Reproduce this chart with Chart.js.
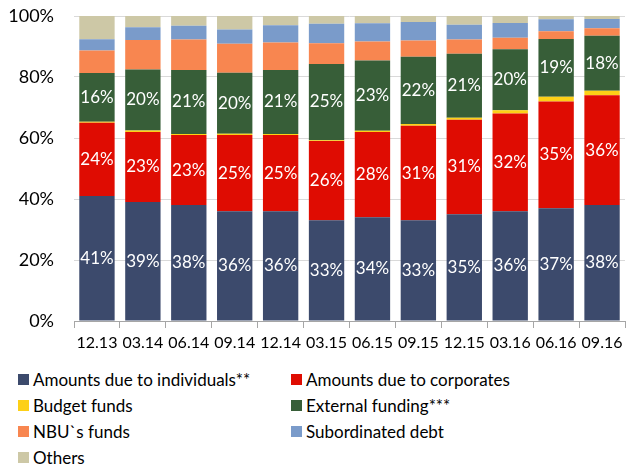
<!DOCTYPE html>
<html>
<head>
<meta charset="utf-8">
<script src="https://cdn.jsdelivr.net/npm/chart.js@4"></script>
<style>
  body { margin: 0; background: #fff; font-family: Lato, 'Open Sans', sans-serif; }
  .wrap { position: relative; width: 628px; height: 468px; }
  .chart { position: absolute; left: 0; top: 0; width: 628px; height: 358px; }
  .legend { position: absolute; left: 18px; top: 368px; display: grid;
    grid-template-columns: 273px 300px; row-gap: 4px; font-size: 17px; color: #000; }
  .legend span { display: flex; align-items: center; height: 22px; }
  .legend i { display: inline-block; width: 11px; height: 11px; margin-right: 4px; }
</style>
</head>
<body>
<div class="wrap">
  <div class="chart"><canvas id="myChart"></canvas></div>
  <div class="legend js-legend"></div>
</div>
<script>
const labels = ['12.13', '03.14', '06.14', '09.14', '12.14', '03.15', '06.15', '09.15', '12.15', '03.16', '06.16', '09.16'];

// shares of liabilities, %
const individuals = [41, 39, 38, 36, 36, 33, 34, 33, 35, 36, 37, 38];
const corporates = [24, 23, 23, 25, 25, 26, 28, 31, 31, 32, 35, 36];
const budget = [0.3, 0.5, 0.3, 0.4, 0.3, 0.3, 0.4, 0.6, 0.6, 1.1, 1.5, 1.5];
const external = [16, 20, 21, 20, 21, 25, 23, 22, 21, 20, 19, 18];
const nbu = [7.4, 9.6, 10.0, 9.5, 9.0, 6.8, 6.2, 5.4, 4.7, 3.8, 2.5, 2.5];
const subordinated = [3.7, 4.2, 4.5, 4.7, 5.7, 6.4, 6.0, 6.0, 4.8, 4.8, 3.9, 3.0];
const others = [7.6, 3.7, 3.2, 4.4, 3.0, 2.5, 2.4, 2.0, 2.9, 2.3, 1.1, 1.0];

const series = [
  { label: 'Amounts due to individuals**', data: individuals, color: '#3c4a6c', showValue: true },
  { label: 'Amounts due to corporates', data: corporates, color: '#df0c02', showValue: true },
  { label: 'Budget funds', data: budget, color: '#fdd017', showValue: false },
  { label: 'External funding***', data: external, color: '#375e38', showValue: true },
  { label: 'NBU`s funds', data: nbu, color: '#f88650', showValue: false },
  { label: 'Subordinated debt', data: subordinated, color: '#7a9bca', showValue: false },
  { label: 'Others', data: others, color: '#cdc8a6', showValue: false },
];

const valueLabels = {
  id: 'valueLabels',
  afterDatasetsDraw(chart) {
    const ctx = chart.ctx;
    ctx.save();
    ctx.fillStyle = '#fff';
    ctx.font = '17px Lato, "Open Sans", sans-serif';
    ctx.textAlign = 'center';
    ctx.textBaseline = 'middle';
    chart.data.datasets.forEach((ds, i) => {
      if (!series[i].showValue) return;
      chart.getDatasetMeta(i).data.forEach((bar, j) => {
        const mid = (bar.y + bar.base) / 2;
        ctx.fillText(Math.round(ds.data[j]) + '%', bar.x, mid);
      });
    });
    ctx.restore();
  },
};

const init = function () {
  const ctx = document.getElementById('myChart').getContext('2d');
  new Chart(ctx, {
    type: 'bar',
    data: {
      labels: labels,
      datasets: series.map((s) => ({
        label: s.label,
        data: s.data,
        backgroundColor: s.color,
        borderWidth: 0,
        barPercentage: 0.77,
        categoryPercentage: 1,
      })),
    },
    options: {
      responsive: true,
      maintainAspectRatio: false,
      animation: false,
      layout: { padding: { left: 6, right: 3, top: 4, bottom: 0 } },
      plugins: { legend: { display: false }, tooltip: { enabled: false } },
      scales: {
        x: {
          stacked: true,
          afterFit: (scale) => { scale.height = 37; },
          grid: { display: true, drawOnChartArea: false, offset: true, color: '#a6a6a6', tickLength: 7 },
          border: { color: '#a6a6a6' },
          ticks: { color: '#000', font: { size: 16, family: 'Lato' }, padding: 5, maxRotation: 0, autoSkip: false },
        },
        y: {
          stacked: true,
          min: 0,
          max: 100,
          // keep the label gap from pushing the plot down
          afterFit: (scale) => { scale.width = 68; scale.paddingTop = 16; scale.paddingBottom = 10; },
          grid: { color: '#d9d9d9', drawTicks: false },
          border: { display: false },
          ticks: {
            stepSize: 20,
            padding: 20,
            color: '#000',
            font: { size: 18, family: 'Lato' },
            callback: (v) => v + '%',
          },
        },
      },
    },
    plugins: [valueLabels],
  });

  const legend = document.querySelector('.js-legend');
  legend.innerHTML = series
    .map((s) => `<span><i style="background:${s.color}"></i>${s.label}</span>`)
    .join('');
};

document.addEventListener('DOMContentLoaded', init);
</script>
</body>
</html>
